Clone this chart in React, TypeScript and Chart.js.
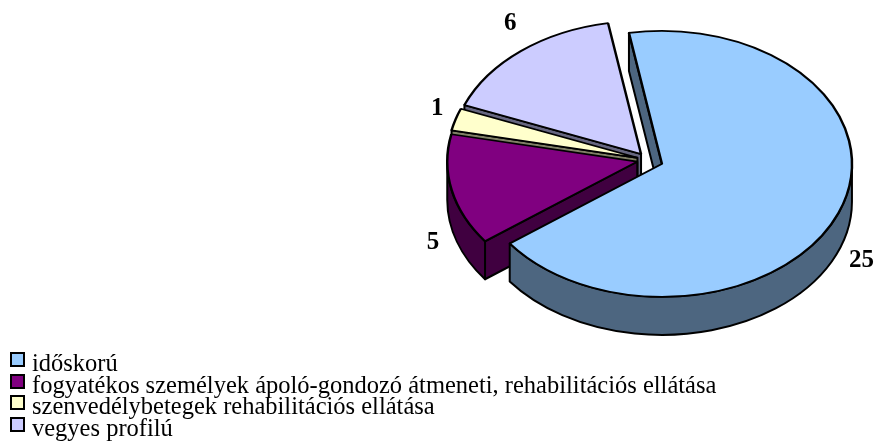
import React, { useEffect, useRef } from 'react';
import { Chart, PieController, ArcElement, Legend } from 'chart.js';

Chart.register(PieController, ArcElement, Legend);

// ---- data ----
const categories = [
  'időskorú',
  'fogyatékos személyek ápoló-gondozó átmeneti, rehabilitációs ellátása',
  'szenvedélybetegek rehabilitációs ellátása',
  'vegyes profilú',
];
const values = [25, 5, 1, 6];
const topColors = ['#99CCFF', '#800080', '#FFFFCC', '#CCCCFF'];
const sideColors = ['#4D6680', '#400040', '#808066', '#666680'];
const explode = [15, 11, 11, 11];

// ---- 3D look ----
const DEPTH = 38;
const TILT = 0.7;
const LABEL_TILT = 0.815;
const LABEL_FONT = 'bold 25px "Times New Roman", "Liberation Serif", serif';
const LEGEND_FONT_SIZE = 24.5;
const LEGEND_ROW = 21.7;

export default function App() {
  const canvasRef = useRef<HTMLCanvasElement | null>(null);
  const legendRef = useRef<HTMLDivElement | null>(null);

  useEffect(() => {
    const canvas = canvasRef.current;
    if (!canvas) return;

    const centerY = (chart: any) => (chart.chartArea.top + chart.chartArea.bottom) / 2;

    const pie3d = {
      id: 'pie3d',
      beforeDatasetsDraw(chart: any) {
        const meta = chart.getDatasetMeta(0);
        const ctx = chart.ctx as CanvasRenderingContext2D;
        const cy = centerY(chart);
        const saved: { x: number; y: number }[] = [];
        const geo = meta.data.map((arc: any, i: number) => {
          saved.push({ x: arc.x, y: arc.y });
          const mid = (arc.startAngle + arc.endAngle) / 2;
          const ax = arc.x + Math.cos(mid) * explode[i];
          const ay = arc.y + Math.sin(mid) * explode[i];
          arc.x = ax;
          arc.y = ay;
          return { ax, ayP: cy + (ay - cy) * TILT, r: arc.outerRadius, s: arc.startAngle, e: arc.endAngle, i };
        });
        chart.$pie3dSaved = saved;

        ctx.save();
        ctx.lineWidth = 2;
        ctx.strokeStyle = '#000';
        ctx.lineJoin = 'round';
        // radial (cut) faces, painted back to front
        const faces: any[] = [];
        geo.forEach((g: any) => {
          const edges: [number, boolean][] = [
            [g.s, Math.cos(g.s) < 0],
            [g.e, Math.cos(g.e) > 0],
          ];
          edges.forEach(([a, vis]) => {
            if (!vis) return;
            const bx = g.ax + g.r * Math.cos(a);
            const by = g.ayP + g.r * TILT * Math.sin(a);
            faces.push({ g, bx, by, depth: (by + g.ayP) / 2 });
          });
        });
        faces.sort((a, b) => a.depth - b.depth);
        faces.forEach(({ g, bx, by }) => {
          ctx.beginPath();
          ctx.moveTo(g.ax, g.ayP);
          ctx.lineTo(bx, by);
          ctx.lineTo(bx, by + DEPTH);
          ctx.lineTo(g.ax, g.ayP + DEPTH);
          ctx.closePath();
          ctx.fillStyle = sideColors[g.i];
          ctx.fill();
          ctx.stroke();
        });
        // curved outer faces (front half only)
        geo.forEach((g: any) => {
          for (let k = -1; k <= 1; k++) {
            const lo = Math.max(g.s, 2 * Math.PI * k);
            const hi = Math.min(g.e, 2 * Math.PI * k + Math.PI);
            if (hi <= lo) continue;
            ctx.beginPath();
            ctx.ellipse(g.ax, g.ayP, g.r, g.r * TILT, 0, lo, hi);
            ctx.lineTo(g.ax + g.r * Math.cos(hi), g.ayP + DEPTH + g.r * TILT * Math.sin(hi));
            ctx.ellipse(g.ax, g.ayP + DEPTH, g.r, g.r * TILT, 0, hi, lo, true);
            ctx.closePath();
            ctx.fillStyle = sideColors[g.i];
            ctx.fill();
            ctx.stroke();
          }
        });
        ctx.restore();

        // squash the top faces drawn by Chart.js
        ctx.save();
        ctx.translate(0, cy);
        ctx.scale(1, TILT);
        ctx.translate(0, -cy);
      },
      afterDatasetsDraw(chart: any) {
        chart.ctx.restore();
        const meta = chart.getDatasetMeta(0);
        const saved = chart.$pie3dSaved || [];
        meta.data.forEach((arc: any, i: number) => {
          if (saved[i]) {
            arc.x = saved[i].x;
            arc.y = saved[i].y;
          }
        });
      },
      afterDraw(chart: any) {
        const meta = chart.getDatasetMeta(0);
        const ctx = chart.ctx as CanvasRenderingContext2D;
        const cy = centerY(chart);
        ctx.save();
        ctx.font = LABEL_FONT;
        ctx.fillStyle = '#000';
        ctx.textAlign = 'center';
        ctx.textBaseline = 'middle';
        meta.data.forEach((arc: any, i: number) => {
          const mid = (arc.startAngle + arc.endAngle) / 2;
          const ax = arc.x + Math.cos(mid) * explode[i];
          const ay = arc.y + Math.sin(mid) * explode[i];
          const ayP = cy + (ay - cy) * TILT;
          const text = String(values[i]);
          const w = ctx.measureText(text).width;
          const L = arc.outerRadius + 13 + (w / 2) * Math.abs(Math.cos(mid));
          const x = ax + L * Math.cos(mid);
          const front = Math.sin(mid) > 0 ? DEPTH - 6 * Math.cos(mid) : 0;
          const y = ayP + L * Math.sin(mid) * LABEL_TILT + front;
          ctx.fillText(text, x, y);
        });
        ctx.restore();
      },
    };

    const htmlLegend = {
      id: 'htmlLegend',
      afterUpdate(chart: any) {
        const box = legendRef.current;
        if (!box) return;
        while (box.firstChild) box.removeChild(box.firstChild);
        const items = chart.options.plugins.legend.labels.generateLabels(chart);
        items.forEach((item: any, idx: number) => {
          const row = document.createElement('div');
          row.style.position = 'absolute';
          row.style.left = '0px';
          row.style.top = `${idx * LEGEND_ROW}px`;
          row.style.height = `${LEGEND_ROW}px`;
          row.style.width = '877px';
          const sw = document.createElement('span');
          sw.style.position = 'absolute';
          sw.style.left = '10px';
          sw.style.top = '0px';
          sw.style.width = '15px';
          sw.style.height = '15px';
          sw.style.boxSizing = 'border-box';
          sw.style.border = '2px solid #000';
          sw.style.background = item.fillStyle;
          const tx = document.createElement('span');
          tx.style.position = 'absolute';
          tx.style.left = '32px';
          tx.style.top = '0px';
          tx.style.whiteSpace = 'nowrap';
          tx.style.fontFamily = '"Times New Roman", "Liberation Serif", serif';
          tx.style.fontSize = `${LEGEND_FONT_SIZE}px`;
          tx.style.lineHeight = `${LEGEND_ROW}px`;
          tx.style.color = '#000';
          tx.textContent = item.text;
          row.appendChild(sw);
          row.appendChild(tx);
          box.appendChild(row);
        });
      },
    };

    const chart = new Chart(canvas, {
      type: 'pie',
      data: {
        labels: categories,
        datasets: [
          {
            data: values,
            backgroundColor: topColors,
            borderColor: '#000',
            borderWidth: 2.5,
            radius: 190,
            clip: false,
          } as any,
        ],
      },
      options: {
        responsive: false,
        animation: false,
        events: [],
        rotation: -10,
        layout: { padding: { left: 419, right: 0, top: 0, bottom: 128 } },
        plugins: {
          legend: { display: false },
        },
      } as any,
      plugins: [pie3d, htmlLegend],
    });

    return () => {
      chart.destroy();
    };
  }, []);

  return (
    <div style={{ position: 'absolute', left: 0, top: 0, width: 877, height: 448, background: '#fff', overflow: 'hidden' }}>
      <canvas ref={canvasRef} width={877} height={448} style={{ position: 'absolute', left: 0, top: 0, width: 877, height: 448 }} />
      <div ref={legendRef} style={{ position: 'absolute', left: 0, top: 352, width: 877, height: 96 }} />
    </div>
  );
}
